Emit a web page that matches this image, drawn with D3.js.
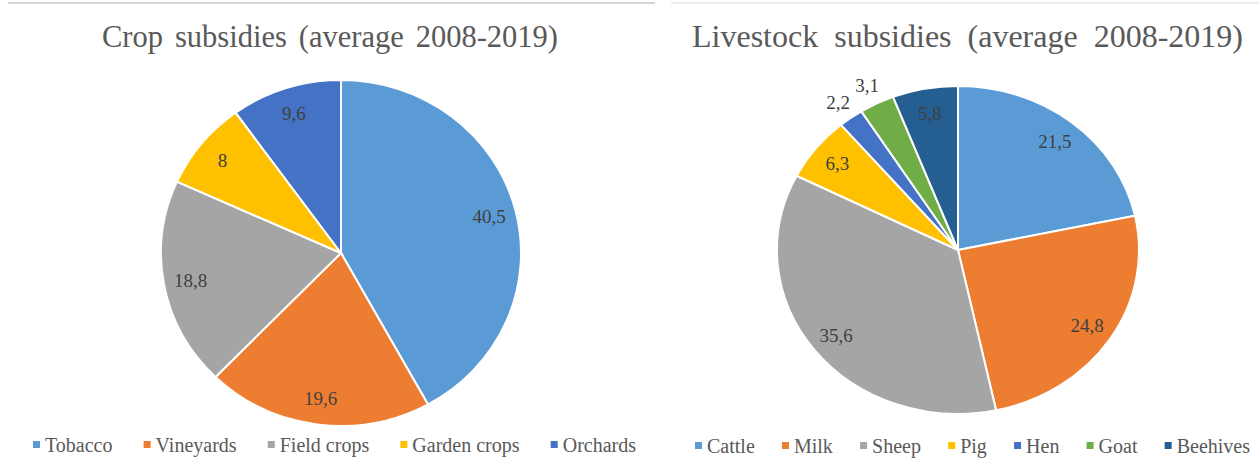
<!DOCTYPE html>
<html>
<head>
<meta charset="utf-8">
<script src="https://cdn.jsdelivr.net/npm/d3@7"></script>
<style>
  html, body { margin: 0; padding: 0; background: #ffffff; }
  svg { display: block; }
  svg text { font-family: "Liberation Serif", "Times New Roman", serif; }
</style>
</head>
<body>
<svg id="chart" width="1259" height="469"></svg>
<script>
// ---- Data ----
const cropCategories = ["Tobacco", "Vineyards", "Field crops", "Garden crops", "Orchards"];
const cropValues = [40.5, 19.6, 18.8, 8, 9.6];
const cropLabels = ["40,5", "19,6", "18,8", "8", "9,6"];

const livestockCategories = ["Cattle", "Milk", "Sheep", "Pig", "Hen", "Goat", "Beehives"];
const livestockValues = [21.5, 24.8, 35.6, 6.3, 2.2, 3.1, 5.8];
const livestockLabels = ["21,5", "24,8", "35,6", "6,3", "2,2", "3,1", "5,8"];

const cropTitle = "Crop subsidies (average 2008-2019)";
const livestockTitle = "Livestock subsidies (average 2008-2019)";

const cropColors = ["#5B9BD5", "#ED7D31", "#A5A5A5", "#FFC000", "#4472C4"];
const livestockColors = ["#5B9BD5", "#ED7D31", "#A5A5A5", "#FFC000", "#4472C4", "#70AD47", "#255E91"];

// ---- Drawing ----
const svg = d3.select("#chart");

// top rules
svg.append("rect").attr("x", 8).attr("y", 2).attr("width", 647).attr("height", 2).attr("fill", "#d4d4d4");
svg.append("rect").attr("x", 671).attr("y", 2).attr("width", 588).attr("height", 2).attr("fill", "#ececec");

function drawPanel(opts) {
  const { cats, vals, labels, colors, title, titleSize, cx, cy, rx, ry, titleX0, titleX1, legendX0, legendX1, legendY } = opts;
  const g = svg.append("g");

  // title, stretched to measured width via word-spacing
  const t = g.append("text")
    .attr("x", titleX0).attr("y", 47)
    .style("font-size", titleSize + "px")
    .attr("fill", "#595959")
    .text(title);
  const natural = t.node().getComputedTextLength();
  const nSpaces = title.split(" ").length - 1;
  t.attr("word-spacing", Math.max(0, ((titleX1 - titleX0) - natural) / nSpaces));

  const pie = d3.pie().sort(null).value(d => d)(vals);
  const arc = d3.arc().innerRadius(0).outerRadius(rx);
  const color = d3.scaleOrdinal().domain(cats).range(colors);

  const pg = g.append("g").attr("transform", `translate(${cx},${cy}) scale(1,${ry / rx})`);
  pg.selectAll("path").data(pie).join("path")
    .attr("d", arc)
    .attr("fill", (d, i) => color(cats[i]))
    .attr("stroke", "#ffffff")
    .attr("stroke-width", 2)
    .attr("vector-effect", "non-scaling-stroke");

  const total = d3.sum(vals);
  const factor = d => (d.value / total < 0.05 ? 1.12 : 0.85);
  g.selectAll("text.lbl").data(pie).join("text")
    .attr("class", "lbl")
    .attr("x", d => cx + factor(d) * rx * Math.sin((d.startAngle + d.endAngle) / 2))
    .attr("y", d => cy - factor(d) * ry * Math.cos((d.startAngle + d.endAngle) / 2))
    .attr("dy", "0.35em")
    .attr("text-anchor", "middle")
    .style("font-size", "19px")
    .attr("fill", "#404040")
    .text((d, i) => labels[i]);

  // legend
  const lg = g.append("g");
  const items = lg.selectAll("g").data(cats).join("g");
  items.append("rect")
    .attr("width", 7).attr("height", 7)
    .attr("y", legendY - 4)
    .attr("fill", d => color(d));
  items.append("text")
    .attr("y", legendY + 7)
    .style("font-size", "20px")
    .attr("fill", "#595959")
    .text(d => d);
  const widths = items.select("text").nodes().map(n => n.getComputedTextLength());
  const markerW = 7, markerGap = 5, fixed = d3.sum(widths) + cats.length * (markerW + markerGap);
  const gap = ((legendX1 - legendX0) - fixed) / (cats.length - 1);
  let x = legendX0;
  items.each(function (d, i) {
    const s = d3.select(this);
    s.select("rect").attr("x", x);
    s.select("text").attr("x", x + markerW + markerGap);
    x += markerW + markerGap + widths[i] + gap;
  });
}

drawPanel({
  cats: cropCategories, vals: cropValues, labels: cropLabels, colors: cropColors, title: cropTitle, titleSize: 30.5,
  cx: 341, cy: 253, rx: 180, ry: 173,
  titleX0: 102, titleX1: 558,
  legendX0: 33, legendX1: 636, legendY: 445
});

drawPanel({
  cats: livestockCategories, vals: livestockValues, labels: livestockLabels, colors: livestockColors, title: livestockTitle, titleSize: 32,
  cx: 958, cy: 250, rx: 181, ry: 164,
  titleX0: 692, titleX1: 1243,
  legendX0: 695, legendX1: 1250, legendY: 446
});
</script>
</body>
</html>
